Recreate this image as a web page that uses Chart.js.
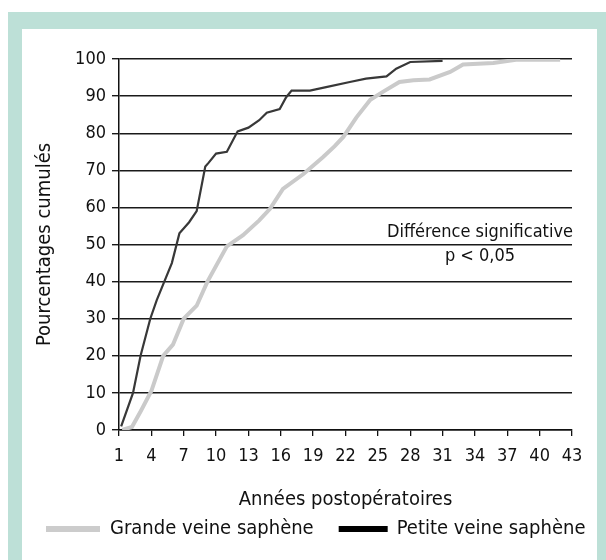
<!DOCTYPE html>
<html>
<head>
<meta charset="utf-8">
<script src="https://cdn.jsdelivr.net/npm/chart.js@4"></script>
<style>
  html, body { margin: 0; padding: 0; background: #fff; }
  #frame { position: absolute; left: 8px; top: 12px; width: 598px; height: 548px; background: #bde0d7; }
  #panel { position: absolute; left: 22px; top: 29px; width: 575px; height: 531px; background: #fff; }
  #wrap { position: absolute; left: 0; top: 0; width: 606px; height: 560px; }
</style>
</head>
<body>
<div id="frame"></div>
<div id="panel"></div>
<div id="wrap"><canvas id="chart" width="606" height="560"></canvas></div>
<script>
// series names
const seriesNames = ['Grande veine saphène', 'Petite veine saphène']

// Grande veine saphène (light grey curve)
const gvsYears = [1.3, 2.2, 3.0, 4.0, 5.1, 6.0, 7.0, 8.2, 9.2, 11.0, 12.5, 14.0, 15.0, 16.2, 18.1, 19.9, 21.0, 21.8, 23.0, 24.3, 25.5, 27.0, 28.3, 29.8, 31.7, 32.9, 35.7, 37.8, 41.9]
const gvsPct   = [0, 0.8, 5, 10.5, 20, 23, 30, 33.5, 40, 49.5, 52.5, 56.5, 59.6, 65, 69, 73.5, 76.5, 79, 84.2, 89, 91.2, 93.8, 94.3, 94.5, 96.5, 98.5, 98.9, 99.8, 99.8]

// Petite veine saphène (dark curve)
const pvsYears = [1.2, 2.3, 3.0, 3.9, 4.5, 5.2, 5.9, 6.6, 7.5, 8.2, 9.0, 9.3, 10.0, 11.0, 12.0, 13.0, 14.0, 14.7, 15.9, 16.5, 17.0, 18.7, 20.2, 22.4, 23.9, 25.8, 26.7, 28.0, 31.0]
const pvsPct   = [1, 10, 20, 30, 35, 40, 45, 53, 56, 59, 71, 72, 74.5, 75, 80.5, 81.5, 83.5, 85.5, 86.5, 89.7, 91.5, 91.5, 92.4, 93.8, 94.7, 95.3, 97.4, 99.2, 99.5]

// axes
const xMin = 1, xMax = 43, xStep = 3
const yMin = 0, yMax = 100, yStep = 10

const FONT = "'Liberation Sans Narrow', 'DejaVu Sans Condensed', 'Roboto Condensed', 'Noto Sans', sans-serif"

const toPoints = (xs, ys) => xs.map((x, i) => ({ x: x, y: ys[i] }))

const noteAndLegend = {
  id: 'noteAndLegend',
  afterDraw(chart) {
    const ctx = chart.ctx
    ctx.save()
    ctx.fillStyle = '#111'
    ctx.font = '18px ' + FONT
    ctx.textBaseline = 'middle'
    ctx.textAlign = 'center'
    ctx.fillText('Différence significative', 480, 232)
    ctx.fillText('p < 0,05', 480, 256)

    // legend
    ctx.font = '20px ' + FONT
    let x = 46
    const y = 529
    ctx.textAlign = 'left'
    chart.data.datasets.forEach((ds, i) => {
      ctx.fillStyle = ds.legendColor
      ctx.fillRect(x, y - 3, i ? 49 : 54, 6)
      x += i ? 58 : 64
      ctx.fillStyle = '#111'
      ctx.fillText(ds.label, x, y)
      x += ctx.measureText(ds.label).width + 25
    })
    ctx.restore()
  }
}

new Chart(document.getElementById('chart'), {
  type: 'line',
  data: {
    datasets: [
      {
        label: seriesNames[0],
        data: toPoints(gvsYears, gvsPct),
        borderColor: '#cacaca',
        legendColor: '#cccccc',
        borderWidth: 4,
        pointRadius: 0,
        tension: 0,
        fill: false
      },
      {
        label: seriesNames[1],
        data: toPoints(pvsYears, pvsPct),
        borderColor: '#383838',
        legendColor: '#000000',
        borderWidth: 2.2,
        pointRadius: 0,
        tension: 0,
        fill: false
      }
    ]
  },
  options: {
    responsive: false,
    animation: false,
    layout: { padding: { left: 29, right: 34, top: 59, bottom: 44 } },
    plugins: {
      legend: { display: false },
      tooltip: { enabled: false }
    },
    scales: {
      x: {
        type: 'linear',
        min: xMin,
        max: xMax,
        afterFit: s => { s.height = 86 },
        ticks: { stepSize: xStep, color: '#111', font: { family: FONT, size: 18 }, padding: 10, maxRotation: 0 },
        grid: { drawOnChartArea: false, drawTicks: true, tickLength: 6, color: '#111', lineWidth: 1.3 },
        border: { color: '#111', width: 1.5 },
        title: { display: true, text: 'Années postopératoires', color: '#111', font: { family: FONT, size: 20 } }
      },
      y: {
        min: yMin,
        max: yMax,
        afterFit: s => { s.width = 90 },
        ticks: { stepSize: yStep, color: '#111', font: { family: FONT, size: 18 }, padding: 6 },
        grid: { color: '#1a1a1a', lineWidth: 1.4, tickLength: 7 },
        border: { color: '#111', width: 1.5 },
        title: { display: true, text: 'Pourcentages cumulés', color: '#111', font: { family: FONT, size: 20 } }
      }
    }
  },
  plugins: [noteAndLegend]
})
</script>
</body>
</html>
